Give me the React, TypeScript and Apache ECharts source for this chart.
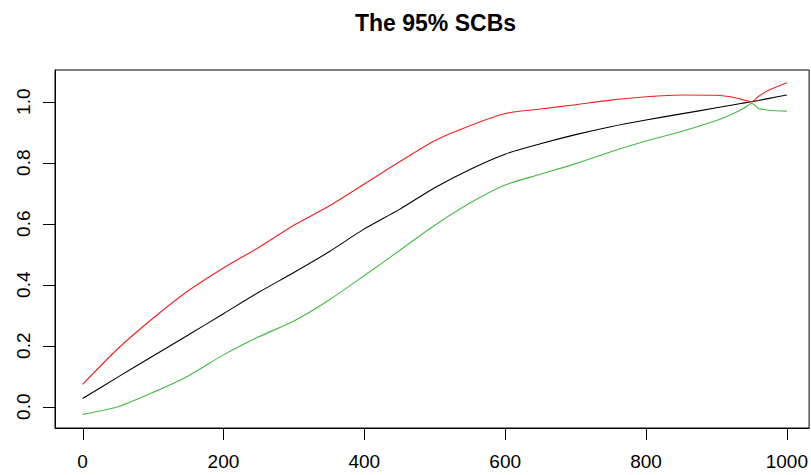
import React, { useEffect, useRef } from "react";
import * as echarts from "echarts";

// Grid positions along the horizontal axis
const xs = [0, 50, 100, 150, 200, 250, 300, 350, 400, 450, 500, 550, 600, 650, 700, 750, 800, 850, 900, 925, 940, 950, 960, 975, 1000];

// Estimated curve
const estimate = [0.027, 0.097, 0.166, 0.235, 0.305, 0.375, 0.44, 0.508, 0.583, 0.647, 0.718, 0.778, 0.828, 0.862, 0.892, 0.918, 0.94, 0.96, 0.98, 0.99, 0.996, 1.0, 1.004, 1.011, 1.022];
// Upper 95% simultaneous confidence band
const upper = [0.073, 0.19, 0.29, 0.38, 0.455, 0.522, 0.595, 0.658, 0.73, 0.803, 0.872, 0.921, 0.961, 0.976, 0.99, 1.005, 1.016, 1.022, 1.021, 1.014, 1.005, 1.0, 1.018, 1.038, 1.062];
// Lower 95% simultaneous confidence band
const lower = [-0.025, 0.0, 0.047, 0.101, 0.17, 0.229, 0.281, 0.35, 0.43, 0.512, 0.595, 0.668, 0.727, 0.762, 0.797, 0.836, 0.871, 0.902, 0.938, 0.962, 0.98, 0.995, 0.978, 0.972, 0.969];

const xTicks = [0, 200, 400, 600, 800, 1000];
const yTicks = [0, 0.2, 0.4, 0.6, 0.8, 1.0];

// Axis ranges (R-style 4% padding around the data)
const X_MIN = -39.2;
const X_MAX = 1031.6;
const Y_MIN = -0.0698;
const Y_MAX = 1.1039;

const TICK_LEN = 12;
const FONT = "'Liberation Sans', Arial, Helvetica, sans-serif";

const pairs = (ys: number[]) => xs.map((x, i) => [x, ys[i]]);

export default function App() {
  const ref = useRef<HTMLDivElement>(null);

  useEffect(() => {
    if (!ref.current) return;
    const chart = echarts.init(ref.current, undefined, { renderer: "svg" });
    const lineSeries = (name: string, ys: number[], color: string) => ({
      name,
      type: "line",
      data: pairs(ys),
      showSymbol: false,
      symbol: "none",
      smooth: 0.25,
      lineStyle: { color, width: 1.1 },
    });
    chart.setOption({
      animation: false,
      title: {
        text: "The 95% SCBs",
        left: 355,
        top: 11,
        padding: 0,
        textStyle: { fontFamily: FONT, fontWeight: "bold", fontSize: 23, color: "#000" },
      },
      grid: {
        left: 55,
        top: 70,
        width: 756,
        height: 358,
        show: true,
        borderColor: "#000",
      },
      xAxis: {
        type: "value",
        min: X_MIN,
        max: X_MAX,
        axisLine: { show: true, onZero: false, lineStyle: { color: "#000", width: 1 } },
        splitLine: { show: false },
        axisTick: { show: false },
        axisLabel: {
          customValues: xTicks,
          fontFamily: FONT,
          fontSize: 19,
          color: "#000",
          margin: 24,
          formatter: (v: number) => String(v),
        },
      },
      yAxis: {
        type: "value",
        min: Y_MIN,
        max: Y_MAX,
        axisLine: { show: true, onZero: false, lineStyle: { color: "#000", width: 1 } },
        splitLine: { show: false },
        axisTick: { show: false },
        axisLabel: {
          customValues: yTicks,
          rotate: 90,
          fontFamily: FONT,
          fontSize: 19,
          color: "#000",
          margin: 22,
          formatter: (v: number) => v.toFixed(1),
        },
      },
      series: [
        lineSeries("estimate", estimate, "#000000"),
        lineSeries("upper", upper, "#F02020"),
        lineSeries("lower", lower, "#44BB44"),
      ],
    });

    // Outward tick marks, placed through the axes' own scales
    const crisp = (p: number) => Math.round(p) + 0.5;
    const tickStyle = { stroke: "#000", lineWidth: 1 };
    const elements: any[] = [];
    xTicks.forEach((v) => {
      const [px, py] = chart.convertToPixel({ gridIndex: 0 }, [v, Y_MIN]) as number[];
      const x = crisp(px);
      elements.push({
        type: "line",
        silent: true,
        z: 100,
        shape: { x1: x, y1: py, x2: x, y2: py + TICK_LEN },
        style: tickStyle,
      });
    });
    yTicks.forEach((v) => {
      const [px, py] = chart.convertToPixel({ gridIndex: 0 }, [X_MIN, v]) as number[];
      const y = crisp(py);
      elements.push({
        type: "line",
        silent: true,
        z: 100,
        shape: { x1: px - TICK_LEN, y1: y, x2: px, y2: y },
        style: tickStyle,
      });
    });
    chart.setOption({ graphic: { elements } });

    return () => chart.dispose();
  }, []);

  return <div ref={ref} style={{ width: 811, height: 475, position: "absolute", left: 0, top: 0 }} />;
}
